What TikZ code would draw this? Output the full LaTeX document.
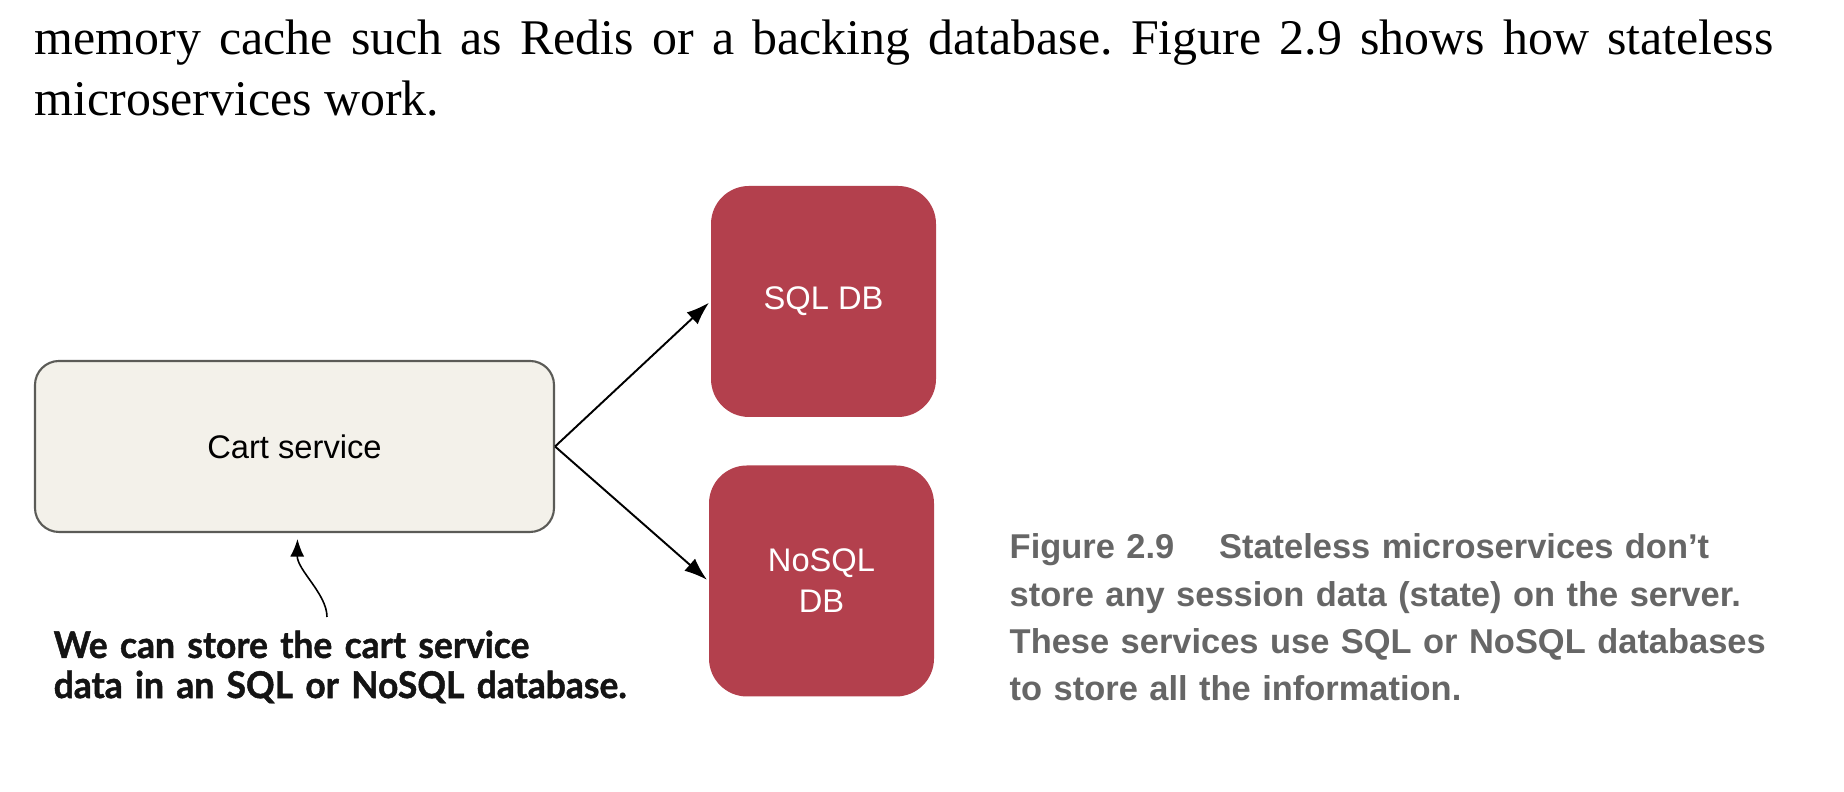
\documentclass[tikz,border=0pt]{standalone}
\usepackage{fontspec}
\setmainfont{Liberation Serif}
\newfontfamily\boxfont{Liberation Sans}
\newfontfamily\notefont{Lato}[FakeStretch=0.96, BoldFeatures={FakeBold=1.2}]
\newfontfamily\capfont{Liberation Sans}
\usetikzlibrary{arrows.meta,positioning}
\definecolor{cartfill}{HTML}{F3F1EA}
\definecolor{cartline}{HTML}{5B5B57}
\definecolor{dbred}{HTML}{B3404D}
\definecolor{capgray}{HTML}{666666}
\definecolor{noteblack}{HTML}{141414}
\tikzset{
  svcbox/.style={draw=cartline, line width=0.6pt, fill=cartfill, rounded corners=0.24cm,
    minimum width=5.19cm, minimum height=1.71cm, inner sep=0,
    font=\boxfont\fontsize{9.3}{11.7}\selectfont},
  dbbox/.style={fill=dbred, rounded corners=0.38cm, minimum width=2.25cm,
    minimum height=2.31cm, inner sep=0, text=white, align=center,
    font=\boxfont\fontsize{9.3}{11.7}\selectfont},
  flow/.style={line width=0.55pt, -{Latex[length=6.5pt,width=4.6pt]}, shorten >=0.5pt},
}
\begin{document}
\frenchspacing
\begin{tikzpicture}
        \useasboundingbox (0,0) rectangle (18.44,7.92);                  %page
        \node [anchor=base west, text width=17.39cm, align=justify, inner sep=0,
               font=\fontsize{14.2}{17.3}\selectfont] (body) at (0.34,7.37)
              {memory cache such as Redis or a backing database. Figure 2.9 shows how stateless\linebreak microservices work.};
        \node [svcbox] (cart)    at (2.945,3.455) {Cart service};        %service
        \node [dbbox]  (sqldb)   at (8.235,4.905) {SQL DB};              %DB 1
        \node [dbbox]  (nosqldb) at (8.215,2.110) {NoSQL\\DB};           %DB 2
        \draw [flow]   (cart.east) -- (sqldb.west);                      %
        \draw [flow]   (cart.east) -- (nosqldb.west);                    %
        \node [anchor=base west, text width=7cm, align=left, inner sep=0, text=noteblack,
               font=\notefont\bfseries\fontsize{10.5}{11.4}\selectfont] (note) at (0.53,1.34)
              {We can store the cart service\\data in an SQL or NoSQL database.};
        \coordinate (notetail) at (3.27,1.75);                           %
        \coordinate (notetip)  at ([xshift=0.3mm,yshift=-0.6mm]cart.south);
        \draw [line width=0.45pt, -{Latex[length=5pt,width=4pt]}]
              (notetail) .. controls (3.27,1.98) and (2.97,2.22) .. (notetip);
        \node [anchor=base west, text width=8cm, align=left, inner sep=0, text=capgray,
               font=\capfont\bfseries\fontsize{9.8}{13.4}\selectfont] (caption) at (10.09,2.33)
              {Figure 2.9\hspace{1.3em}Stateless microservices don’t\\
               store any session data (state) on the server.\\
               These services use SQL or NoSQL databases\\
               to store all the information.};                           %caption
\end{tikzpicture}
\end{document}
